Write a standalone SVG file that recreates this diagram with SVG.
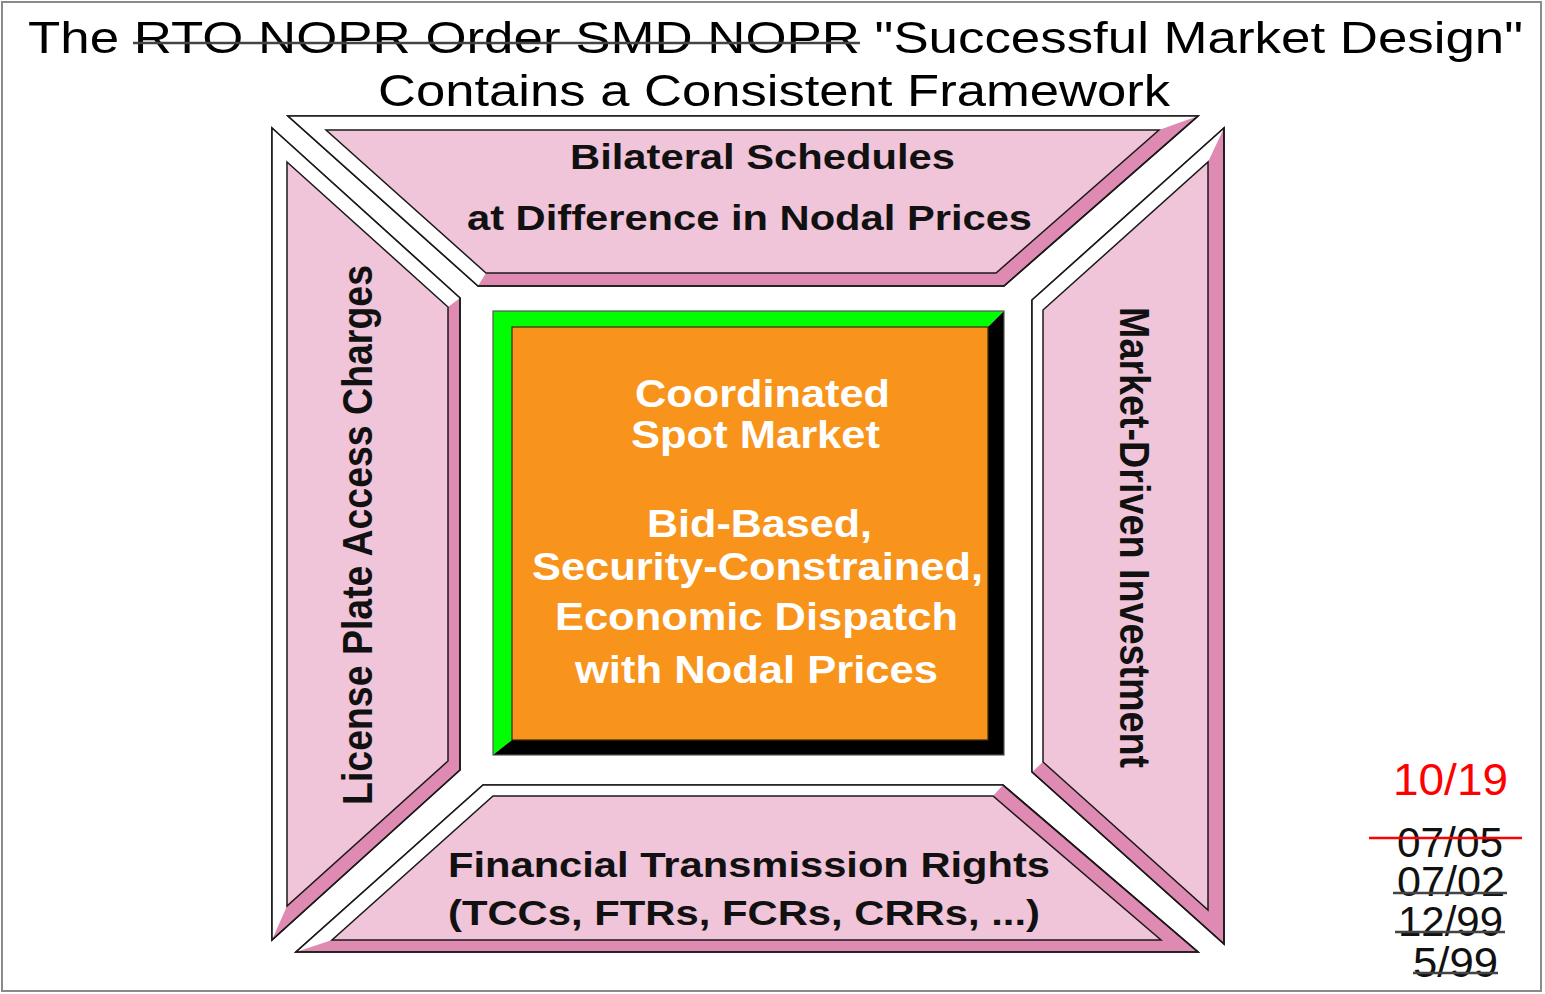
<svg xmlns="http://www.w3.org/2000/svg" width="1545" height="994" viewBox="0 0 1545 994">
  <style>
    .bg{fill:#ffffff}
    .frame{fill:none;stroke:#8a8a8a;stroke-width:2}
    .shade{fill:#de8ab2;stroke:#1a1a1a;stroke-width:1.6;stroke-linejoin:miter}
    .hl{fill:#ffffff;stroke:none}
    .face{fill:#f0c4d9;stroke:#1a1a1a;stroke-width:1.5;stroke-linejoin:miter}
    .edge{fill:none;stroke:#1a1a1a;stroke-width:1.6;stroke-linejoin:miter}
    .ttl{font-family:"Liberation Sans",Arial,sans-serif;font-size:44px;fill:#000}
    .lbl{font-family:"Liberation Sans",Arial,sans-serif;font-weight:bold;font-size:35px;fill:#111}
    .side{font-family:"Liberation Sans",Arial,sans-serif;font-weight:bold;font-size:37.5px;fill:#111}
    .ctr{font-family:"Liberation Sans",Arial,sans-serif;font-weight:bold;font-size:38px;fill:#ffffff}
    .date{font-family:"Liberation Sans",Arial,sans-serif;font-size:42px;fill:#111}
    .now{font-family:"Liberation Sans",Arial,sans-serif;font-size:44px;fill:#ff0000}
    .strike{stroke:#444;stroke-width:2.5}
    .redstrike{stroke:#ff0000;stroke-width:2.5}
  </style>

  <rect class="bg" x="0" y="0" width="1545" height="994"/>
  <rect class="frame" x="2" y="2" width="1539" height="989"/>

  <!-- heading -->
  <g id="title">
    <text class="ttl" x="28" y="53" textLength="1495" lengthAdjust="spacingAndGlyphs">The RTO NOPR Order SMD NOPR "Successful Market Design"</text>
    <line class="strike" x1="133" y1="43" x2="860" y2="43"/>
    <text class="ttl" x="378" y="106" textLength="792" lengthAdjust="spacingAndGlyphs">Contains a Consistent Framework</text>
  </g>

  <!-- top bevelled panel -->
  <g id="panel-top">
    <polygon class="shade" points="288,116 1198,116 1004,286 478,286"/>
    <polygon class="hl" points="478,286 288,116 1198,116 1159,130 326,130 486,273"/>
    <polygon class="edge" points="288,116 1198,116 1004,286 478,286"/>
    <polygon class="face" points="326,130 1159,130 996,273 486,273"/>
    <text class="lbl" x="762.5" y="169" text-anchor="middle" textLength="385" lengthAdjust="spacingAndGlyphs">Bilateral Schedules</text>
    <text class="lbl" x="749.5" y="230" text-anchor="middle" textLength="565" lengthAdjust="spacingAndGlyphs">at Difference in Nodal Prices</text>
  </g>

  <!-- left bevelled panel -->
  <g id="panel-left">
    <polygon class="shade" points="272,128 460,298 460,770 272,940"/>
    <polygon class="hl" points="272,940 272,128 460,298 448,307 287,162 287,906"/>
    <polygon class="edge" points="272,128 460,298 460,770 272,940"/>
    <polygon class="face" points="287,162 448,307 448,761 287,906"/>
    <text class="side" transform="translate(372,535) rotate(-90) scale(1,1.14)" x="0" y="0" text-anchor="middle" textLength="540" lengthAdjust="spacingAndGlyphs">License Plate Access Charges</text>
  </g>

  <!-- right bevelled panel -->
  <g id="panel-right">
    <polygon class="shade" points="1032,300 1224,128 1224,944 1032,772"/>
    <polygon class="hl" points="1032,772 1032,300 1224,128 1208,162 1043,310 1043,762"/>
    <polygon class="edge" points="1032,300 1224,128 1224,944 1032,772"/>
    <polygon class="face" points="1043,310 1208,162 1208,910 1043,762"/>
    <text class="side" transform="translate(1120,537.5) rotate(90) scale(1,1.14)" x="0" y="0" text-anchor="middle" textLength="461" lengthAdjust="spacingAndGlyphs">Market-Driven Investment</text>
  </g>

  <!-- bottom bevelled panel -->
  <g id="panel-bottom">
    <polygon class="shade" points="483,785 1003,785 1198,952 296,952"/>
    <polygon class="hl" points="296,952 483,785 1003,785 993,796 493,796 332,940"/>
    <polygon class="edge" points="483,785 1003,785 1198,952 296,952"/>
    <polygon class="face" points="493,796 993,796 1161,940 332,940"/>
    <text class="lbl" x="749" y="877" text-anchor="middle" textLength="602" lengthAdjust="spacingAndGlyphs">Financial Transmission Rights</text>
    <text class="lbl" x="744" y="925" text-anchor="middle" textLength="592" lengthAdjust="spacingAndGlyphs">(TCCs, FTRs, FCRs, CRRs, ...)</text>
  </g>

  <!-- central raised block -->
  <g id="center">
    <polygon points="493,311 1004,311 988,327 512,327 512,740 493,755" fill="#00ff00"/>
    <polygon points="1004,311 1004,755 493,755 512,740 988,740 988,327" fill="#000000"/>
    <rect x="493" y="311" width="511" height="444" fill="none" stroke="#555" stroke-width="1.2"/>
    <rect x="512" y="327" width="476" height="413" fill="#f8931b" stroke="#3a2a10" stroke-width="1.2"/>
    <text class="ctr" x="762.5" y="407" text-anchor="middle" textLength="255" lengthAdjust="spacingAndGlyphs">Coordinated</text>
    <text class="ctr" x="755.5" y="448" text-anchor="middle" textLength="249" lengthAdjust="spacingAndGlyphs">Spot Market</text>
    <text class="ctr" x="759.5" y="537" text-anchor="middle" textLength="225" lengthAdjust="spacingAndGlyphs">Bid-Based,</text>
    <text class="ctr" x="757.5" y="580" text-anchor="middle" textLength="451" lengthAdjust="spacingAndGlyphs">Security-Constrained,</text>
    <text class="ctr" x="756.5" y="630" text-anchor="middle" textLength="403" lengthAdjust="spacingAndGlyphs">Economic Dispatch</text>
    <text class="ctr" x="756.5" y="683" text-anchor="middle" textLength="363" lengthAdjust="spacingAndGlyphs">with Nodal Prices</text>
  </g>

  <!-- revision dates -->
  <g id="dates">
    <text class="now" x="1450.5" y="795" text-anchor="middle" textLength="115" lengthAdjust="spacingAndGlyphs">10/19</text>
    <text class="date" x="1450" y="857" text-anchor="middle" textLength="106" lengthAdjust="spacingAndGlyphs">07/05</text>
    <line class="redstrike" x1="1369" y1="838" x2="1522" y2="838"/>
    <text class="date" x="1451" y="896" text-anchor="middle" textLength="108" lengthAdjust="spacingAndGlyphs">07/02</text>
    <line class="strike" x1="1393" y1="893" x2="1507" y2="893"/>
    <text class="date" x="1450.5" y="936" text-anchor="middle" textLength="105" lengthAdjust="spacingAndGlyphs">12/99</text>
    <line class="strike" x1="1395" y1="932" x2="1505" y2="932"/>
    <text class="date" x="1455.5" y="977" text-anchor="middle" textLength="85" lengthAdjust="spacingAndGlyphs">5/99</text>
    <line class="strike" x1="1413" y1="973" x2="1498" y2="973"/>
  </g>
</svg>
